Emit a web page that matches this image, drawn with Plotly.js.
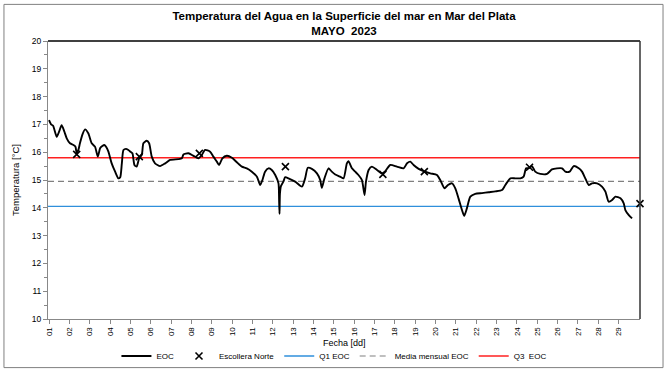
<!DOCTYPE html>
<html>
<head>
<meta charset="utf-8">
<script src="https://cdn.plot.ly/plotly-3.0.1.min.js"></script>
<style>
html,body{margin:0;padding:0;background:#fff;}
#chart{width:667px;height:372px;}
</style>
</head>
<body>
<div id="chart"></div>
<script>
// EOC series (day of month, temperature °C)
const eocDays = [1.0,1.1,1.2,1.38,1.5,1.62,1.75,1.87,2.03,2.2,2.3,2.36,2.45,2.52,2.65,2.77,2.93,3.1,3.26,3.4,3.51,3.62,3.72,3.82,3.92,4.08,4.25,4.41,4.5,4.58,4.66,4.78,4.9,5.0,5.1,5.2,5.31,5.43,5.56,5.64,5.8,5.92,6.05,6.21,6.46,6.71,6.95,7.36,7.53,7.61,7.85,8.1,8.34,8.51,8.67,8.92,9.08,9.25,9.36,9.52,9.74,9.99,10.23,10.48,10.72,10.97,11.22,11.38,11.49,11.62,11.79,11.95,12.12,12.28,12.31,12.33,12.35,12.4,12.52,12.61,12.77,13.1,13.43,13.59,13.72,13.92,14.17,14.33,14.41,14.54,14.74,14.9,15.07,15.31,15.48,15.64,15.72,15.89,16.05,16.21,16.38,16.51,16.58,16.71,16.87,17.12,17.36,17.53,17.77,18.1,18.43,18.6,18.76,18.92,19.17,19.41,19.74,20.07,20.23,20.44,20.61,20.81,20.97,21.13,21.3,21.41,21.54,21.71,21.95,22.28,22.61,22.94,23.27,23.43,23.68,23.92,24.17,24.33,24.45,24.58,24.74,24.9,25.15,25.48,25.72,25.97,26.22,26.38,26.59,26.79,27.04,27.2,27.36,27.53,27.69,27.94,28.18,28.35,28.51,28.68,28.84,29.09,29.25,29.33,29.5,29.66];
const eocTemp = [17.15,17.0,16.95,16.55,16.75,16.97,16.75,16.5,16.32,16.26,16.2,15.96,16.1,16.32,16.65,16.82,16.68,16.32,16.2,15.84,16.14,16.22,16.26,16.18,16.02,15.6,15.3,15.06,15.1,15.6,16.08,16.12,16.08,16.02,15.96,15.54,15.48,15.78,15.9,16.32,16.41,16.32,15.84,15.6,15.5,15.6,15.72,15.75,15.78,15.92,15.96,15.87,15.78,15.9,16.08,16.02,15.84,15.66,15.54,15.78,15.87,15.8,15.64,15.48,15.42,15.3,15.12,14.82,15.0,15.3,15.42,15.36,15.18,14.88,14.3,13.78,14.5,14.78,14.94,15.1,15.06,14.94,14.76,15.06,15.44,15.4,15.24,15.0,14.72,15.06,15.42,15.3,15.2,15.12,15.06,15.6,15.68,15.42,15.3,15.18,15.0,14.46,14.94,15.36,15.48,15.36,15.24,15.32,15.54,15.48,15.42,15.6,15.66,15.54,15.4,15.32,15.24,15.18,15.0,14.7,14.82,14.88,14.7,14.34,13.92,13.71,13.98,14.4,14.5,14.53,14.56,14.59,14.64,14.82,15.06,15.06,15.06,15.12,15.42,15.42,15.5,15.3,15.22,15.22,15.38,15.42,15.42,15.3,15.3,15.5,15.42,15.3,15.06,14.82,14.88,14.88,14.76,14.58,14.22,14.28,14.4,14.34,14.16,13.92,13.74,13.62];

// Escollera Norte readings
const escDays = [2.36,5.44,8.39,12.62,17.41,19.45,24.62,30.05];
const escTemp = [15.92,15.84,15.96,15.48,15.2,15.3,15.46,14.15];

// Reference levels
const q1EOC = 14.05;
const mediaEOC = 14.95;
const q3EOC = 15.8;
const refSpan = [0.95, 30.05];

// Tick labels
const dayTicks = [1,2,3,4,5,6,7,8,9,10,11,12,13,14,15,16,17,18,19,20,21,22,23,24,25,26,27,28,29];
const dayLabels = ["01","02","03","04","05","06","07","08","09","10","11","12","13","14","15","16","17","18","19","20","21","22","23","24","25","26","27","28","29"];
const tempTicks = [10,11,12,13,14,15,16,17,18,19,20];

const FONT = "Liberation Sans, Arial, sans-serif";

const traces = [
  {x: refSpan, y: refSpan.map(()=>q1EOC), mode:'lines', name:'Q1 EOC', line:{color:'#2f8fdb', width:1.4}, legendrank:3, hoverinfo:'skip'},
  {x: refSpan, y: refSpan.map(()=>mediaEOC), mode:'lines', name:'Media mensual EOC', line:{color:'#808080', width:1.2, dash:'6px,4px'}, legendrank:4, hoverinfo:'skip'},
  {x: refSpan, y: refSpan.map(()=>q3EOC), mode:'lines', name:'Q3  EOC', line:{color:'#ff2020', width:1.4}, legendrank:5, hoverinfo:'skip'},
  {x: eocDays, y: eocTemp, mode:'lines', name:'EOC', line:{color:'#000', width:1.9, shape:'spline', smoothing:0.6}, legendrank:1},
  {x: escDays, y: escTemp, mode:'markers', name:'Escollera Norte', cliponaxis:false, marker:{symbol:'x-thin-open', size:7, color:'#000', line:{color:'#000', width:1.6}}, legendrank:2}
];

const layout = {
  width: 667, height: 372,
  margin: {l:48, r:27, t:40.7, b:52.7},
  paper_bgcolor:'#fff', plot_bgcolor:'#fff',
  showlegend: true,
  font: {family: FONT, size: 8, color:'#000'},
  title: {text:'<b>Temperatura del Agua en la Superficie del mar en Mar del Plata<br>MAYO  2023</b>', x:0.5, xref:'paper', y:0.945, yanchor:'top', font:{family:FONT, size:11.5, color:'#000'}},
  xaxis: {
    range: refSpan, tickmode:'array', tickvals: dayTicks, ticktext: dayLabels, tickangle:-90,
    ticks:'outside', ticklen:4, tickcolor:'#888', showgrid:false, zeroline:false,
    showline:true, linecolor:'#888', linewidth:1, automargin:false,
    tickfont:{family:FONT, size:8}
  },
  yaxis: {
    range:[10,20], tickmode:'array', tickvals: tempTicks,
    ticks:'outside', ticklen:4, tickcolor:'#888', showgrid:false, zeroline:false,
    showline:true, linecolor:'#888', linewidth:1, automargin:false,
    minor:{dtick:0.5, ticks:'outside', ticklen:3, tickcolor:'#888'},
    tickfont:{family:FONT, size:8.5},
    title:{text:'Temperatura [°C]', font:{family:FONT, size:9.5}, standoff:10}
  },
  annotations: [
    {text:'Fecha [dd]', xref:'paper', yref:'paper', x:0.5, y:-0.085, xanchor:'center', yanchor:'middle', showarrow:false, font:{family:FONT, size:9, color:'#000'}}
  ],
  legend: {orientation:'h', x:0.483, xanchor:'center', xref:'paper', y:0.043, yref:'container', yanchor:'middle', font:{family:FONT, size:8}, itemwidth:30, bgcolor:'rgba(0,0,0,0)'},
  shapes: [
    {type:'line', xref:'paper', yref:'paper', x0:0, x1:1, y0:1, y1:1, line:{color:'#000', width:1.5}},
    {type:'line', xref:'paper', yref:'paper', x0:1, x1:1, y0:0, y1:1, line:{color:'#333', width:1.5}},
    {type:'rect', xref:'paper', yref:'paper', x0:-0.0744, x1:1.0389, y0:-0.1748, y1:1.1317, line:{color:'#808080', width:1}}
  ]
};

Plotly.newPlot('chart', traces, layout, {displayModeBar:false, staticPlot:true});
</script>
</body>
</html>
